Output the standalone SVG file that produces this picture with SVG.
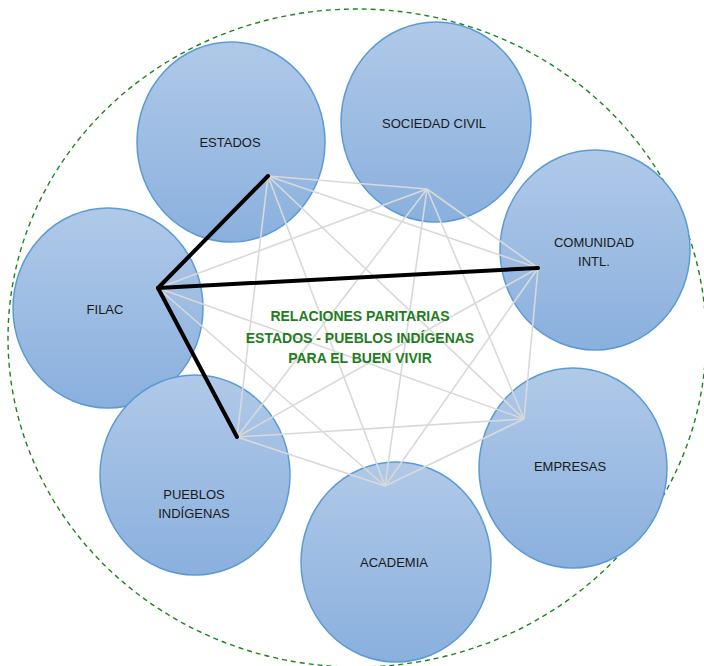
<svg xmlns="http://www.w3.org/2000/svg" width="704" height="666" viewBox="0 0 704 666">
<defs>
<linearGradient id="g" x1="0" y1="0" x2="0" y2="1">
<stop offset="0" stop-color="#b0c9e8"/>
<stop offset="1" stop-color="#8ab0de"/>
</linearGradient>
<style>
.c{fill:url(#g);stroke:#5b9bd5;stroke-width:1.5}
.t{font-family:"Liberation Sans",Arial,sans-serif;font-size:13px;fill:#1a1a1a;text-anchor:middle}
.g{stroke:#d9d9d9;stroke-width:1.6;fill:none}
.b{stroke:#000;stroke-width:4;fill:none;stroke-linecap:round}
.m{font-family:"Liberation Sans",Arial,sans-serif;font-size:14px;font-weight:bold;fill:#1e7d1e;text-anchor:middle}
</style>
</defs>
<rect width="704" height="666" fill="#fff"/>
<ellipse cx="357" cy="338" rx="349" ry="329" fill="none" stroke="#1a861a" stroke-width="1.4" stroke-dasharray="5,4"/>
<g id="estados"><ellipse class="c" cx="231" cy="142" rx="94" ry="100"/><text class="t" x="230" y="147">ESTADOS</text></g>
<g id="sociedad-civil"><ellipse class="c" cx="436" cy="122" rx="95" ry="100"/><text class="t" x="434" y="128">SOCIEDAD CIVIL</text></g>
<g id="comunidad-intl"><ellipse class="c" cx="595" cy="250" rx="95" ry="100"/><text class="t" x="594" y="247">COMUNIDAD</text><text class="t" x="594" y="266">INTL.</text></g>
<g id="filac"><ellipse class="c" cx="108" cy="308" rx="95" ry="100"/><text class="t" x="105" y="314">FILAC</text></g>
<g id="empresas"><ellipse class="c" cx="573" cy="468" rx="94" ry="100"/><text class="t" x="570" y="471">EMPRESAS</text></g>
<g id="academia"><ellipse class="c" cx="396" cy="562" rx="95" ry="100"/><text class="t" x="394" y="567">ACADEMIA</text></g>
<g id="pueblos-indigenas"><ellipse class="c" cx="195" cy="475" rx="95" ry="100"/><text class="t" x="194" y="499">PUEBLOS</text><text class="t" x="194" y="518">INDÍGENAS</text></g>
<g id="connectors">
<line class="g" x1="268" y1="176" x2="427" y2="189"/>
<line class="g" x1="268" y1="176" x2="538" y2="268"/>
<line class="g" x1="268" y1="176" x2="524" y2="419"/>
<line class="g" x1="268" y1="176" x2="385" y2="486"/>
<line class="g" x1="268" y1="176" x2="237" y2="437"/>
<line class="g" x1="427" y1="189" x2="158" y2="288"/>
<line class="g" x1="427" y1="189" x2="538" y2="268"/>
<line class="g" x1="427" y1="189" x2="524" y2="419"/>
<line class="g" x1="427" y1="189" x2="385" y2="486"/>
<line class="g" x1="427" y1="189" x2="237" y2="437"/>
<line class="g" x1="538" y1="268" x2="524" y2="419"/>
<line class="g" x1="538" y1="268" x2="385" y2="486"/>
<line class="g" x1="538" y1="268" x2="237" y2="437"/>
<line class="g" x1="158" y1="288" x2="524" y2="419"/>
<line class="g" x1="158" y1="288" x2="385" y2="486"/>
<line class="g" x1="524" y1="419" x2="385" y2="486"/>
<line class="g" x1="524" y1="419" x2="237" y2="437"/>
<line class="g" x1="385" y1="486" x2="237" y2="437"/>
<line class="b" x1="158" y1="288" x2="268" y2="176"/>
<line class="b" x1="158" y1="288" x2="538" y2="268"/>
<line class="b" x1="158" y1="288" x2="237" y2="437"/>
</g>
<g id="title">
<text class="m" x="360" y="321">RELACIONES PARITARIAS</text>
<text class="m" x="360" y="343">ESTADOS - PUEBLOS INDÍGENAS</text>
<text class="m" x="360" y="363">PARA EL BUEN VIVIR</text>
</g>
</svg>
